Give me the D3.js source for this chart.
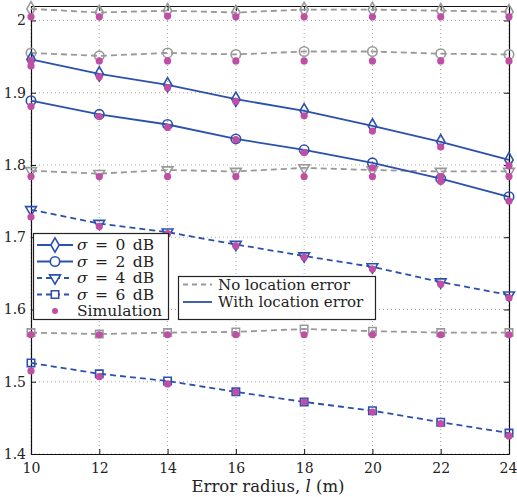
<!DOCTYPE html>
<html>
<head>
<meta charset="utf-8">
<script src="https://cdn.jsdelivr.net/npm/d3@7"></script>
<style>
body{margin:0;background:#fff;}
text{font-family:"DejaVu Serif","Liberation Serif",serif;fill:#222;}
</style>
</head>
<body>
<script>
// error radius l (m)
var radius = [10, 12, 14, 16, 18, 20, 22, 24];
var sigmas = [0, 2, 4, 6];
var yTicks = [1.4, 1.5, 1.6, 1.7, 1.8, 1.9, 2.0];

// analysis, no location error (grey dashed)
var noLoc0 = [2.016, 2.011, 2.0135, 2.011, 2.015, 2.015, 2.0135, 2.012];
var noLoc2 = [1.955, 1.951, 1.955, 1.953, 1.957, 1.957, 1.954, 1.953];
var noLoc4 = [1.792, 1.788, 1.793, 1.791, 1.796, 1.793, 1.791, 1.791];
var noLoc6 = [1.568, 1.566, 1.568, 1.569, 1.573, 1.570, 1.568, 1.568];
// analysis, with location error (blue)
var withLoc0 = [1.946, 1.926, 1.911, 1.891, 1.875, 1.854, 1.832, 1.807];
var withLoc2 = [1.889, 1.870, 1.856, 1.836, 1.821, 1.803, 1.781, 1.756];
var withLoc4 = [1.738, 1.719, 1.707, 1.690, 1.674, 1.659, 1.638, 1.620];
var withLoc6 = [1.526, 1.511, 1.501, 1.486, 1.472, 1.460, 1.444, 1.429];
// simulation points
var simNoLoc0 = [2.005, 2.005, 2.006, 2.005, 2.005, 2.005, 2.005, 2.005];
var simNoLoc2 = [1.944, 1.944, 1.944, 1.944, 1.944, 1.944, 1.944, 1.944];
var simNoLoc4 = [1.784, 1.784, 1.784, 1.784, 1.784, 1.784, 1.784, 1.784];
var simNoLoc6 = [1.565, 1.565, 1.565, 1.565, 1.565, 1.565, 1.565, 1.565];
var simWith0 = [1.937, 1.922, 1.907, 1.888, 1.868, 1.847, 1.825, 1.799];
var simWith2 = [1.881, 1.867, 1.852, 1.835, 1.817, 1.796, 1.777, 1.750];
var simWith4 = [1.728, 1.715, 1.705, 1.688, 1.672, 1.656, 1.635, 1.616];
var simWith6 = [1.515, 1.507, 1.497, 1.486, 1.472, 1.458, 1.442, 1.425];

var blue = "#2b51ad", grey = "#999999", pink = "#c04ea6";
var shapes = [d3.symbolDiamond, d3.symbolCircle, d3.symbolTriangle, d3.symbolSquare];
var shapeSize = [60, 70, 50, 55];

var width = 517, height = 497;
var margin = {left: 31, right: 8, top: 6, bottom: 43};

var svg = d3.select("body").append("svg").attr("width", width).attr("height", height);

var x = d3.scaleLinear().domain([10, 24]).range([margin.left, width - margin.right]);
var y = d3.scaleLinear().domain([1.4, 2.02]).range([height - margin.bottom, margin.top]);

// grid
var grid = svg.append("g");
grid.selectAll(".gx").data(radius).enter().append("line")
  .attr("x1", function(d){return x(d);}).attr("x2", function(d){return x(d);})
  .attr("y1", y(1.4)).attr("y2", y(2.02))
  .attr("stroke", "#aaa").attr("stroke-width", 1).attr("stroke-dasharray", "1,3");
grid.selectAll(".gy").data(yTicks).enter().append("line")
  .attr("x1", x(10)).attr("x2", x(24))
  .attr("y1", function(d){return y(d);}).attr("y2", function(d){return y(d);})
  .attr("stroke", "#aaa").attr("stroke-width", 1).attr("stroke-dasharray", "1,3");

// axes with inward ticks
var fmt = function(d){ return d == 2 ? "2" : d3.format(".1f")(d); };
var xAxis = svg.append("g").attr("transform", "translate(0," + y(1.4) + ")")
  .call(d3.axisBottom(x).tickValues(radius).tickSizeInner(-5).tickSizeOuter(0).tickPadding(9));
var yAxis = svg.append("g").attr("transform", "translate(" + x(10) + ",0)")
  .call(d3.axisLeft(y).tickValues(yTicks).tickFormat(fmt).tickSizeInner(-5).tickSizeOuter(0).tickPadding(5));
svg.append("g").attr("transform", "translate(" + x(24) + ",0)")
  .call(d3.axisRight(y).tickValues(yTicks).tickFormat("").tickSizeInner(-5).tickSizeOuter(0));
svg.append("g").attr("transform", "translate(0," + y(2.02) + ")")
  .call(d3.axisTop(x).tickValues(radius).tickFormat("").tickSizeInner(-5).tickSizeOuter(0));
svg.selectAll(".domain").attr("stroke", "#111").attr("stroke-width", 1.2);
svg.selectAll(".tick line").attr("stroke", "#111");
svg.selectAll(".tick text").style("font-size", "14px").style("font-family", "'DejaVu Serif',serif").attr("fill", "#222");
// keep the last x label inside the page
xAxis.selectAll(".tick text").filter(function(d){return d == 24;}).attr("dx", -1);

svg.append("text").attr("x", 268).attr("y", 492).attr("text-anchor", "middle")
  .style("font-size", "16.5px")
  .html('Error radius, <tspan font-style="italic">l</tspan> (m)');

var line = d3.line().x(function(d, i){return x(radius[i]);}).y(function(d){return y(d);});

function series(vals, color, dash, si){
  svg.append("path").datum(vals).attr("d", line)
    .attr("fill", "none").attr("stroke", color).attr("stroke-width", 1.8)
    .attr("stroke-dasharray", dash);
  svg.selectAll(null).data(vals).enter().append("path")
    .attr("d", d3.symbol().type(shapes[si]).size(shapeSize[si]))
    .attr("transform", function(d, i){
      return "translate(" + x(radius[i]) + "," + y(d) + ")" + (si == 2 ? " rotate(180)" : "");
    })
    .attr("fill", "none").attr("stroke", color).attr("stroke-width", 1.6);
}
function sim(vals){
  svg.selectAll(null).data(vals).enter().append("circle")
    .attr("cx", function(d, i){return x(radius[i]);}).attr("cy", function(d){return y(d);})
    .attr("r", 3.6).attr("fill", pink);
}

var noLoc = [noLoc0, noLoc2, noLoc4, noLoc6];
var withLoc = [withLoc0, withLoc2, withLoc4, withLoc6];
var simNo = [simNoLoc0, simNoLoc2, simNoLoc4, simNoLoc6];
var simWith = [simWith0, simWith2, simWith4, simWith6];

noLoc.forEach(function(v, i){ series(v, grey, "6,4", i); });
withLoc.forEach(function(v, i){ series(v, blue, i < 2 ? null : "6,4", i); });
simNo.forEach(sim);
simWith.forEach(sim);

// legend 1: markers
var lg1 = svg.append("g");
lg1.append("rect").attr("x", 33.5).attr("y", 233.5).attr("width", 135).attr("height", 86)
  .attr("fill", "#fff").attr("stroke", "#222").attr("stroke-width", 1.2);
sigmas.forEach(function(s, i){
  var ry = 245 + i * 16.5;
  lg1.append("line").attr("x1", 37).attr("x2", 73).attr("y1", ry).attr("y2", ry)
    .attr("stroke", blue).attr("stroke-width", 1.8).attr("stroke-dasharray", i < 2 ? null : "5,4");
  lg1.append("path").attr("d", d3.symbol().type(shapes[i]).size(shapeSize[i]))
    .attr("transform", "translate(55," + ry + ")" + (i == 2 ? " rotate(180)" : ""))
    .attr("fill", "#fff").attr("stroke", blue).attr("stroke-width", 1.6);
  lg1.append("text").attr("x", 77).attr("y", ry + 5).style("font-size", "15.5px")
    .style("word-spacing", "2.5px")
    .html('<tspan font-style="italic">σ</tspan> = ' + s + ' dB');
});
lg1.append("circle").attr("cx", 55).attr("cy", 311).attr("r", 3).attr("fill", pink);
lg1.append("text").attr("x", 77).attr("y", 316).style("font-size", "15.5px").text("Simulation");

// legend 2: line styles
var lg2 = svg.append("g");
lg2.append("rect").attr("x", 178.5).attr("y", 276.5).attr("width", 197).attr("height", 43)
  .attr("fill", "#fff").attr("stroke", "#222").attr("stroke-width", 1.2);
lg2.append("line").attr("x1", 183).attr("x2", 212).attr("y1", 284.5).attr("y2", 284.5)
  .attr("stroke", grey).attr("stroke-width", 1.8).attr("stroke-dasharray", "5,4");
lg2.append("line").attr("x1", 183).attr("x2", 212).attr("y1", 302).attr("y2", 302)
  .attr("stroke", blue).attr("stroke-width", 1.8);
lg2.append("text").attr("x", 218).attr("y", 289.5).style("font-size", "15px").text("No location error");
lg2.append("text").attr("x", 218).attr("y", 307).style("font-size", "15px").text("With location error");
</script>
</body>
</html>
